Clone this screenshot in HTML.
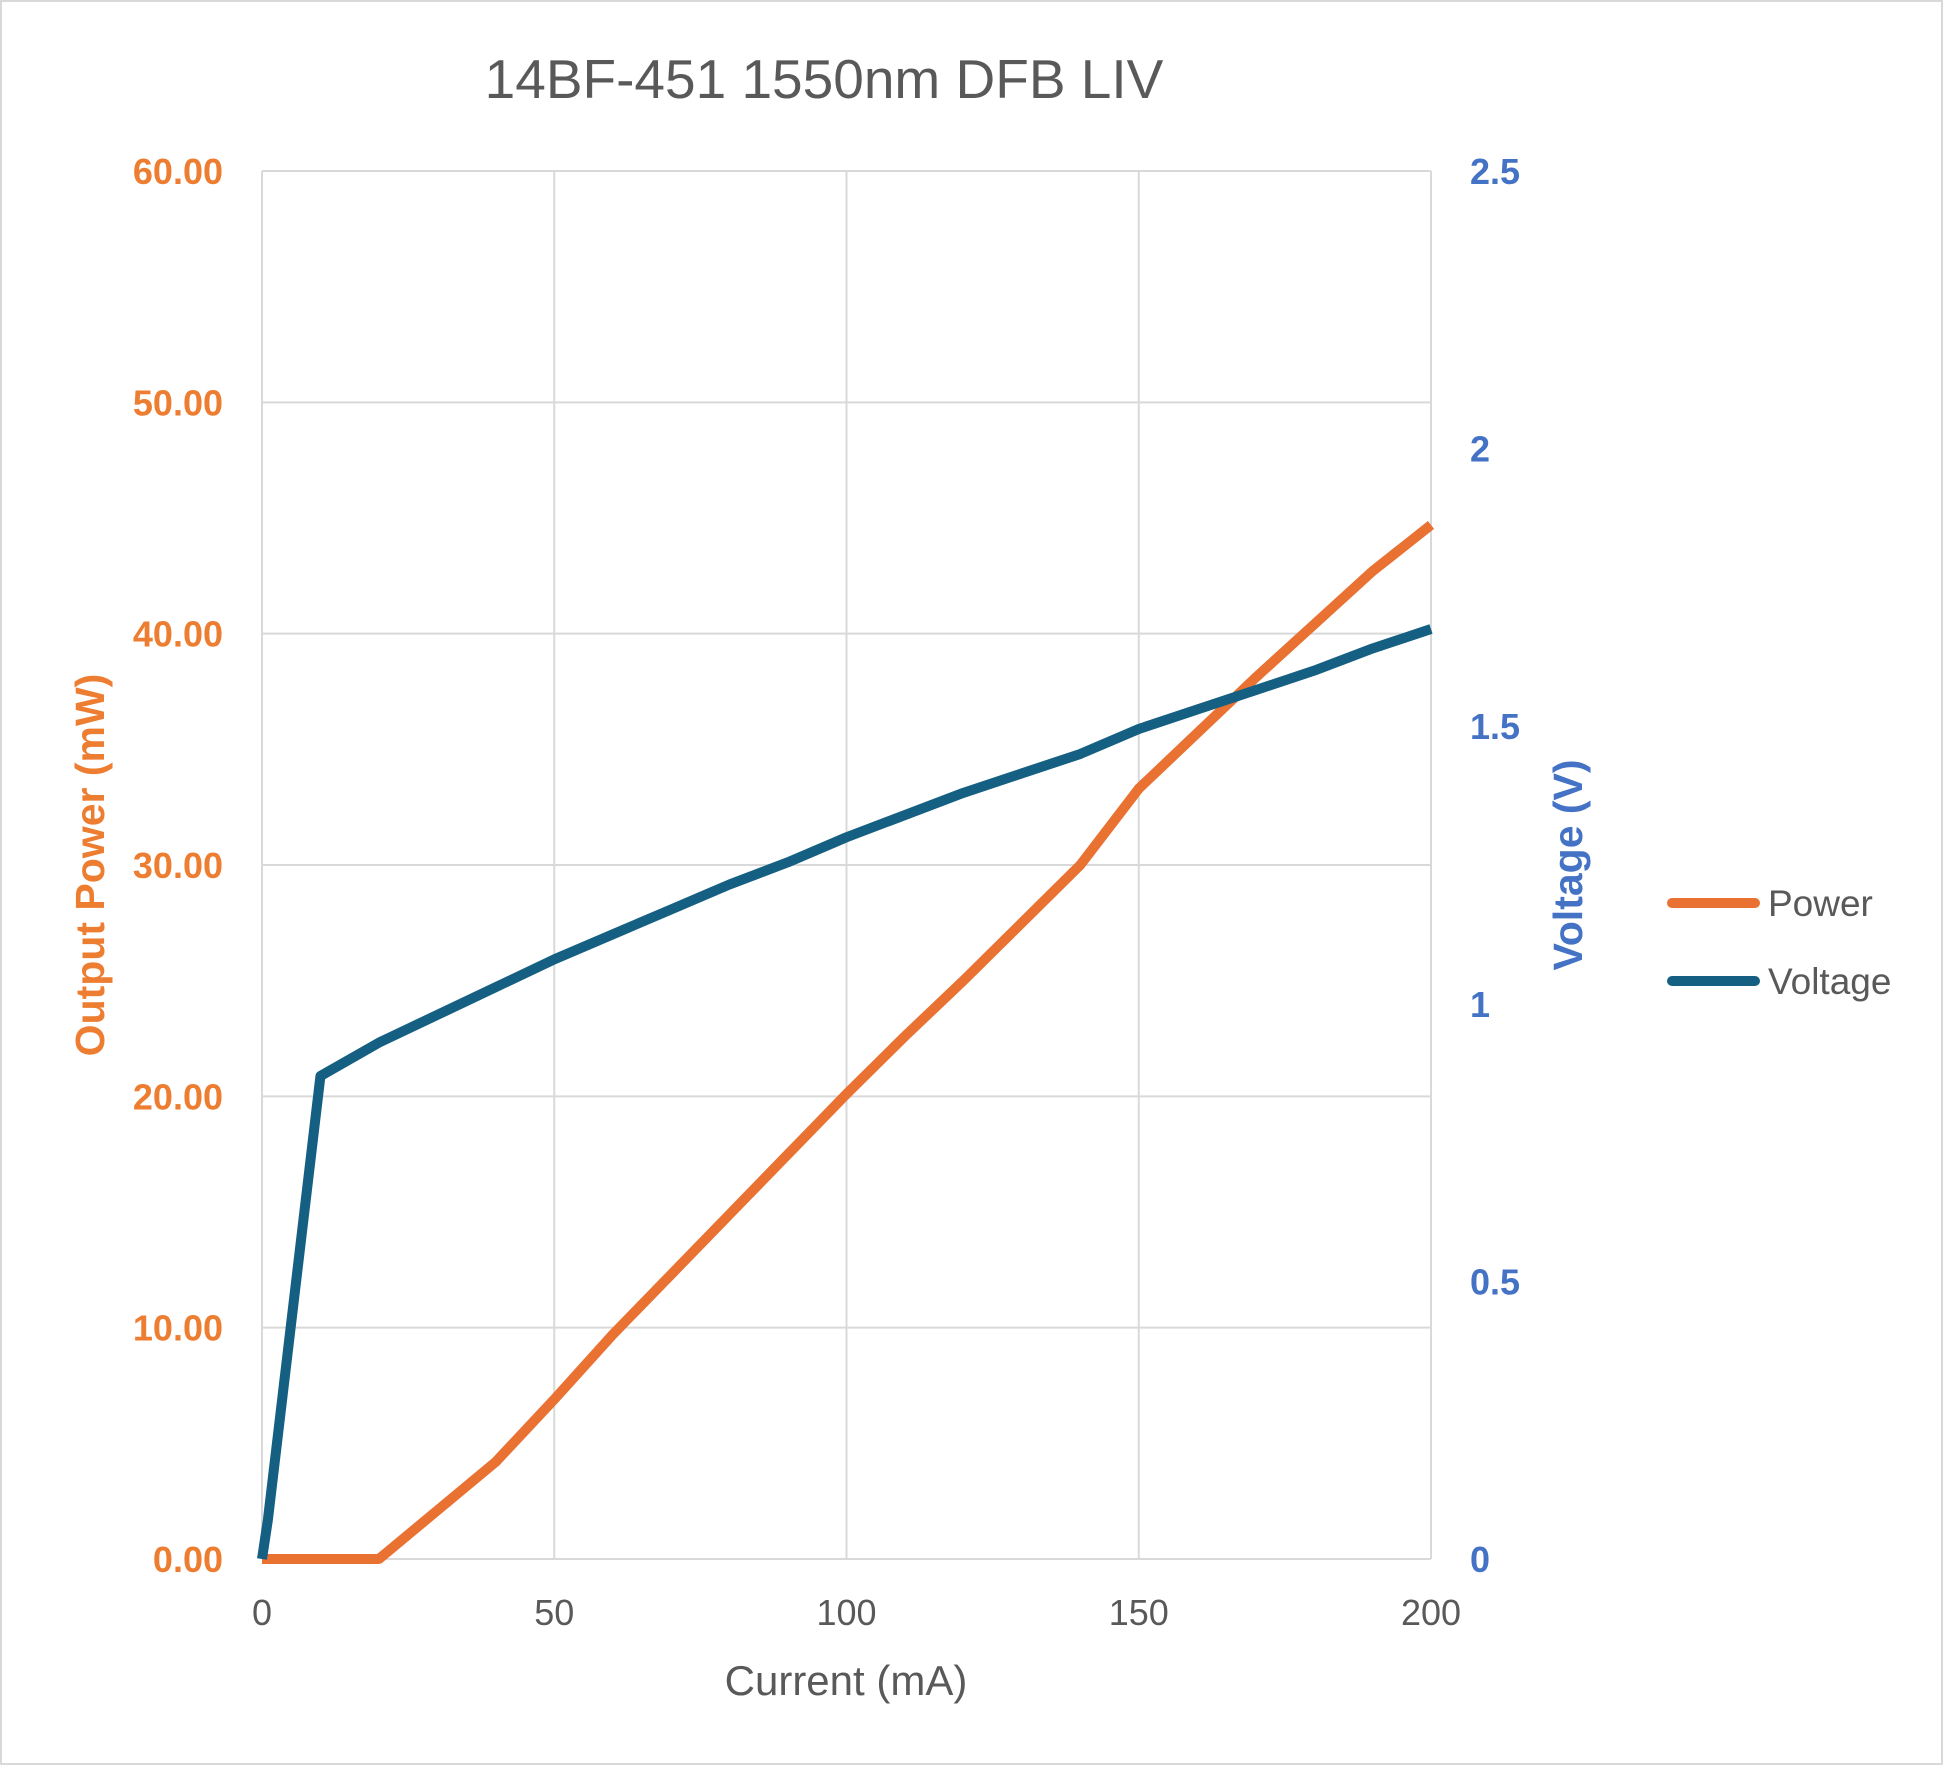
<!DOCTYPE html>
<html><head><meta charset="utf-8"><style>
html,body{margin:0;padding:0;background:#fff}
svg{display:block;font-family:"Liberation Sans",sans-serif}
</style></head><body>
<svg width="1943" height="1765" viewBox="0 0 1943 1765">
<rect x="1" y="1" width="1941" height="1763" fill="#fff" stroke="#d9d9d9" stroke-width="2"/>
<text x="824" y="98" font-size="55" fill="#595959" text-anchor="middle">14BF-451 1550nm DFB LIV</text>
<g id="grid"></g>
<g id="ticks"></g>
<g id="series"></g>
<text x="846" y="1695" font-size="42" fill="#595959" text-anchor="middle">Current (mA)</text>
<text transform="translate(104,865) rotate(-90)" font-size="41" font-weight="bold" fill="#ED7D31" text-anchor="middle">Output Power (mW)</text>
<text transform="translate(1582,865) rotate(-90)" font-size="41" font-weight="bold" fill="#4472C4" text-anchor="middle">Voltage (V)</text>
<g>
<line x1="1672" y1="903" x2="1755" y2="903" stroke="#E97132" stroke-width="10" stroke-linecap="round"/>
<text x="1768" y="916" font-size="37" fill="#595959">Power</text>
<line x1="1672" y1="981" x2="1755" y2="981" stroke="#156082" stroke-width="10" stroke-linecap="round"/>
<text x="1768" y="994" font-size="37" fill="#595959">Voltage</text>
</g>
</svg>
<script>
const current=[0,1,10,20,30,40,50,60,70,80,90,100,110,120,130,140,150,160,170,180,190,200];
const power=[0,0,0,0,2.1,4.2,6.9,9.7,12.3,14.9,17.5,20.1,22.6,25.0,27.5,30.0,33.3,35.7,38.1,40.4,42.7,44.7];
const voltage=[0,0.07,0.87,0.93,0.98,1.03,1.08,1.125,1.17,1.215,1.255,1.3,1.34,1.38,1.415,1.45,1.495,1.53,1.565,1.6,1.64,1.675];
const xTicks=[0,50,100,150,200];
const yLeftTicks=[0,10,20,30,40,50,60];
const yRightTicks=[0,0.5,1,1.5,2,2.5];
const yRightLabels=["0","0.5","1","1.5","2","2.5"];

const L=262,R=1431,T=171,B=1559;
const sx=v=>L+(v/200)*(R-L);
const syL=v=>B-(v/60)*(B-T);
const syR=v=>B-(v/2.5)*(B-T);
const NS="http://www.w3.org/2000/svg";
function mk(tag,parent){const e=document.createElementNS(NS,tag);parent.appendChild(e);return e;}
const grid=document.getElementById('grid'),ticks=document.getElementById('ticks'),series=document.getElementById('series');
yLeftTicks.forEach(v=>{
 const l=mk('line',grid);l.setAttribute('x1',L);l.setAttribute('x2',R);l.setAttribute('y1',syL(v));l.setAttribute('y2',syL(v));l.setAttribute('stroke','#d9d9d9');l.setAttribute('stroke-width','2');
 
 
 const t=mk('text',ticks);t.setAttribute('x',223);t.setAttribute('y',syL(v)+13);t.setAttribute('text-anchor','end');t.setAttribute('font-size','36');t.setAttribute('font-weight','bold');t.setAttribute('fill','#ED7D31');t.textContent=v.toFixed(2);
 
 
});
xTicks.forEach(v=>{
 const l=mk('line',grid);l.setAttribute('x1',sx(v));l.setAttribute('x2',sx(v));l.setAttribute('y1',T);l.setAttribute('y2',B);l.setAttribute('stroke','#d9d9d9');l.setAttribute('stroke-width','2');
 
 
 const t=mk('text',ticks);t.setAttribute('x',sx(v));t.setAttribute('y',1625);t.setAttribute('text-anchor','middle');t.setAttribute('font-size','36');t.setAttribute('fill','#595959');t.textContent=v;
 
 
});
yRightTicks.forEach((v,i)=>{
 const t=mk('text',ticks);t.setAttribute('x',1470);t.setAttribute('y',syR(v)+13);t.setAttribute('font-size','36');t.setAttribute('font-weight','bold');t.setAttribute('fill','#4472C4');t.textContent=yRightLabels[i];
 
 
});
const pp=mk('polyline',series);
pp.setAttribute('points',current.map((c,i)=>sx(c)+','+syL(power[i])).join(' '));
pp.setAttribute('fill','none');pp.setAttribute('stroke','#E97132');pp.setAttribute('stroke-width','10');pp.setAttribute('stroke-linejoin','round');


const vp=mk('polyline',series);
vp.setAttribute('points',current.map((c,i)=>sx(c)+','+syR(voltage[i])).join(' '));
vp.setAttribute('fill','none');vp.setAttribute('stroke','#156082');vp.setAttribute('stroke-width','10');vp.setAttribute('stroke-linejoin','round');


</script>
</body></html>
